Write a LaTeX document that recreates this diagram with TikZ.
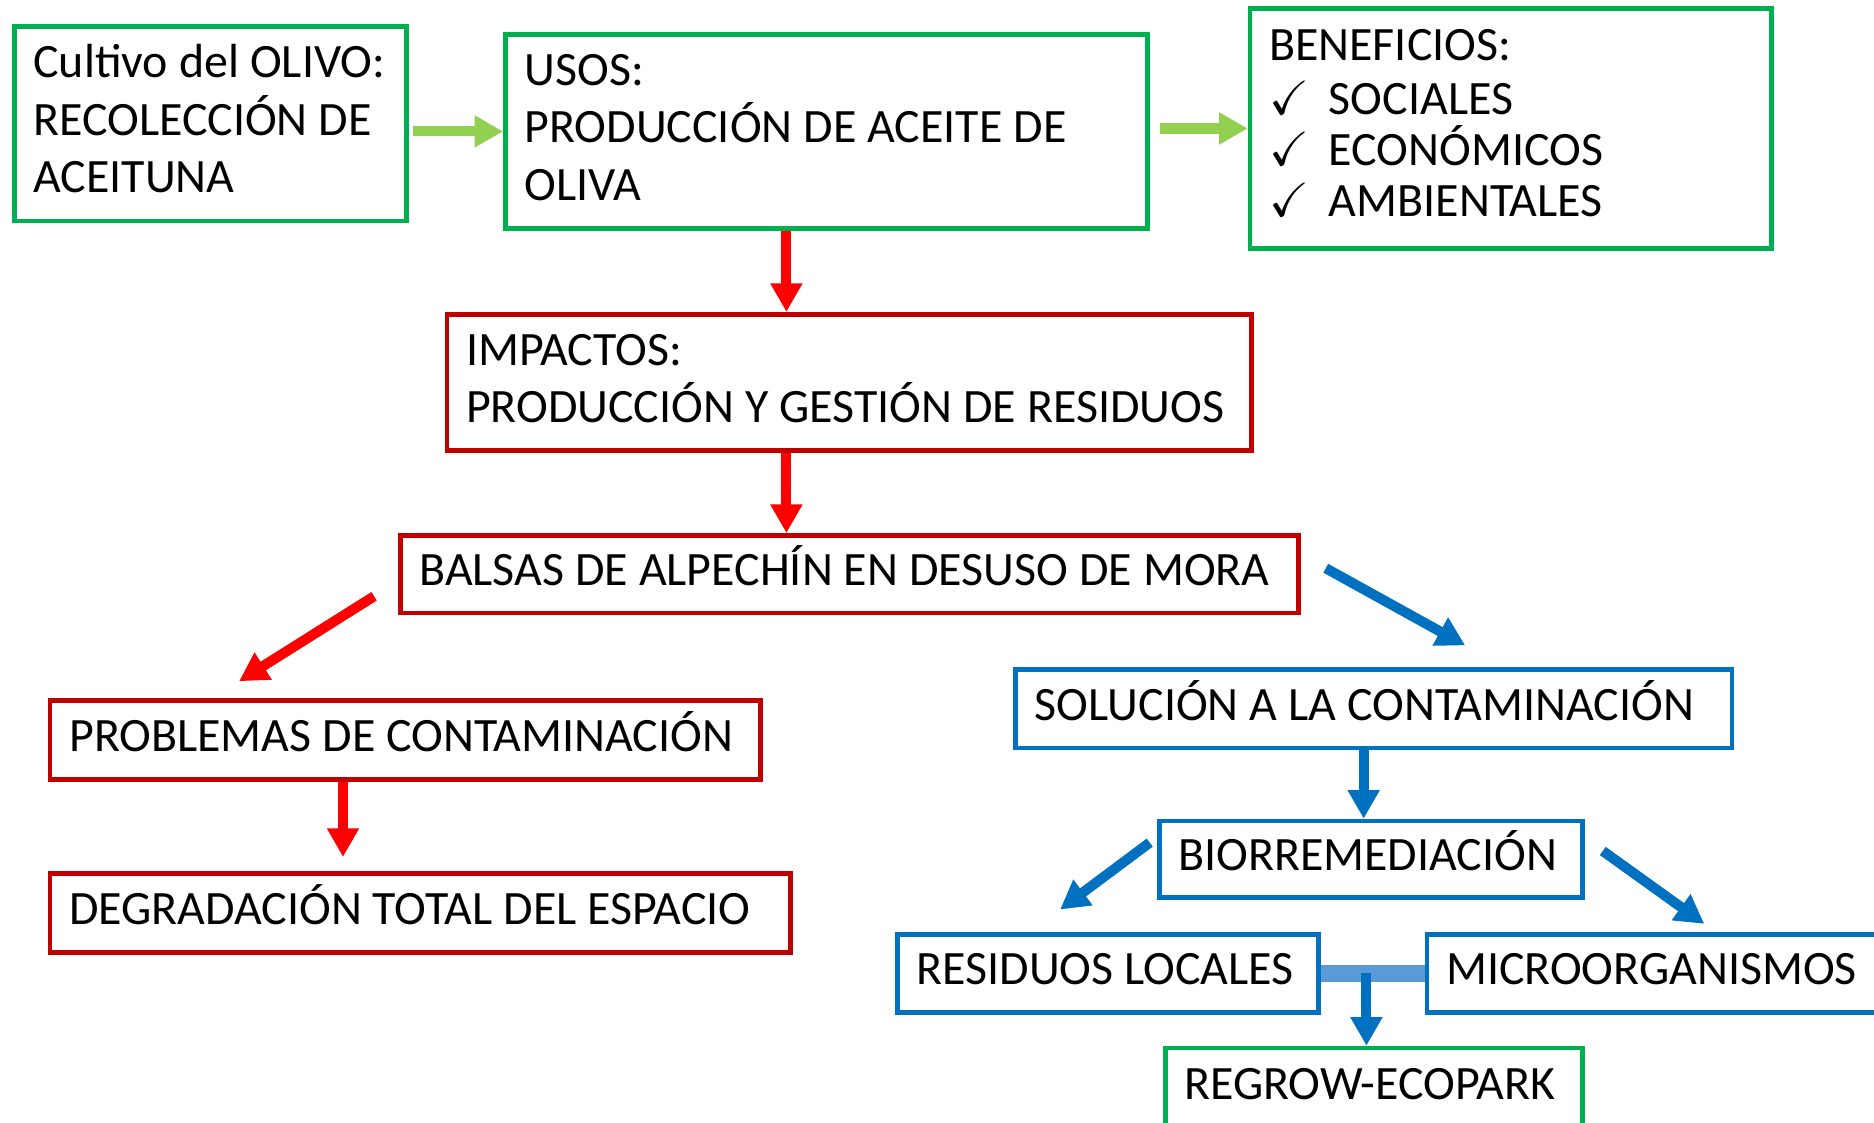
\documentclass[tikz,border=0pt]{standalone}
\usepackage{amssymb}
\usepackage{fontspec}
\setmainfont{Carlito}
\usetikzlibrary{
	calc,
	arrows.meta
}
\definecolor{boxgreen}{HTML}{00B050}
\definecolor{boxred}{HTML}{C00000}
\definecolor{boxblue}{HTML}{0070C0}
\definecolor{arrowgreen}{HTML}{92D050}
\definecolor{arrowred}{HTML}{FF0000}
\definecolor{linkblue}{HTML}{5B9BD5}

\begin{document}
\begin{tikzpicture}[
	x=0.01cm, y=-0.01cm,
	>={Triangle[width=7.2pt,length=6.8pt]},
	box/.style={draw, line width=1.1pt, anchor=north west, inner xsep=0.16cm, inner ysep=0, align=left, font=\fontsize{11.4}{13.66}\selectfont, execute at begin node={\spaceskip=2.62pt\relax}},
	greenbox/.style={box, draw=boxgreen},
	redbox/.style={box, draw=boxred},
	bluebox/.style={box, draw=boxblue},
	greenarrow/.style={->, line width=2.4pt, arrowgreen},
	redarrow/.style={->, line width=2.4pt, arrowred},
	bluearrow/.style={->, line width=2.4pt, boxblue},
	linkline/.style={line width=4pt, linkblue}
]
	\useasboundingbox (0,0) rectangle (1568,939);

	\node(cultivo)[greenbox, text width=2.96cm, minimum height=1.63cm] at (10,20){\begin{tabular}{@{}l@{}}
		Cultivo del OLIVO: \\
		RECOLECCIÓN DE \\
		ACEITUNA
	\end{tabular}};
	\node(usos)[greenbox, text width=5.05cm, minimum height=1.62cm] at (421,27){\begin{tabular}{@{}l@{}}
		USOS: \\
		PRODUCCIÓN DE ACEITE DE \\
		OLIVA
	\end{tabular}};
	\node(beneficios)[greenbox, text width=4.04cm, minimum height=2.01cm, font=\fontsize{11.4}{12.2}\selectfont] at (1044,5){\begin{tabular}{@{}l@{}}
		BENEFICIOS: \\[0.02cm]
		\makebox[0.5cm][l]{\checkmark}SOCIALES \\
		\makebox[0.5cm][l]{\checkmark}\smash{ECONÓMICOS} \\
		\makebox[0.5cm][l]{\checkmark}AMBIENTALES
	\end{tabular}};
	\node(impactos)[redbox, text width=6.41cm, minimum height=1.14cm] at (372,261){\begin{tabular}{@{}l@{}}
		IMPACTOS: \\
		PRODUCCIÓN Y GESTIÓN DE RESIDUOS
	\end{tabular}};
	\node(balsas)[redbox, text width=7.19cm, minimum height=0.65cm] at (333,446)
		{\begin{tabular}{@{}l@{}} BALSAS DE ALPECHÍN EN DESUSO DE MORA \end{tabular}};
	\node(problemas)[redbox, text width=5.62cm, minimum height=0.66cm] at (40,584)
		{\begin{tabular}{@{}l@{}} PROBLEMAS DE CONTAMINACIÓN \end{tabular}};
	\node(degradacion)[redbox, text width=5.87cm, minimum height=0.66cm] at (40,729)
		{\begin{tabular}{@{}l@{}} DEGRADACIÓN TOTAL DEL ESPACIO \end{tabular}};
	\node(solucion)[bluebox, text width=5.67cm, minimum height=0.66cm] at (848,558)
		{\begin{tabular}{@{}l@{}} SOLUCIÓN A LA CONTAMINACIÓN \end{tabular}};
	\node(bio)[bluebox, text width=3.22cm, minimum height=0.64cm] at (968,685)
		{\begin{tabular}{@{}l@{}} BIORREMEDIACIÓN \end{tabular}};
	\node(residuos)[bluebox, text width=3.20cm, minimum height=0.65cm] at (749,780)
		{\begin{tabular}{@{}l@{}} RESIDUOS LOCALES \end{tabular}};
	\node(micro)[bluebox, text width=3.68cm, minimum height=0.65cm] at (1192,780)
		{\begin{tabular}{@{}l@{}} MICROORGANISMOS \end{tabular}};
	\node(regrow)[greenbox, text width=3.17cm, minimum height=0.66cm] at (973,875)
		{\begin{tabular}{@{}l@{}} REGROW-ECOPARK \end{tabular}};

	% arriba
	\draw[greenarrow, shorten <=1pt] (usos.west -| cultivo.east) -- (usos.west);
	\draw[greenarrow, shorten <=0.08cm] (beneficios.west -| usos.east) -- (beneficios.west);

	% impactos
	\coordinate (R) at ($(usos.south west) + (237, 0)$);
	\draw[redarrow] (R) -- (R |- impactos.north);
	\draw[redarrow] (R |- impactos.south) -- (R |- balsas.north);

	\coordinate (P1) at ($(balsas.south west) + (-20, -16)$);
	\coordinate (P2) at ($(problemas.north west) + (160, -14)$);
	\draw[redarrow] (P1) -- (P2);

	\coordinate (Q) at ($(problemas.south west) + (247, 0)$);
	\coordinate (Q2) at ($(Q |- degradacion.north) + (0, -12)$);
	\draw[redarrow] (Q) -- (Q2);

	% soluciones
	\coordinate (B1) at ($(balsas.east) + (21, -5)$);
	\coordinate (B2) at ($(solucion.north west) + (378, -18)$);
	\draw[bluearrow] (B1) -- (B2);

	\coordinate (S) at ($(solucion.south west) + (293, 0)$);
	\draw[bluearrow] (S) -- (S |- bio.north);

	\coordinate (L1) at ($(bio.north west) + (-6, 20)$);
	\coordinate (L2) at ($(residuos.north west) + (138, -19)$);
	\draw[bluearrow] (L1) -- (L2);

	\coordinate (M1) at ($(bio.north east) + (15, 27)$);
	\coordinate (M2) at ($(micro.north west) + (234, -7)$);
	\draw[bluearrow] (M1) -- (M2);

	\draw[linkline] (residuos.east) -- (micro.west);
	\coordinate (J) at ($(residuos.east)!0.44!(micro.west)$);
	\draw[bluearrow] (J) -- (J |- regrow.north);
\end{tikzpicture}
\end{document}
